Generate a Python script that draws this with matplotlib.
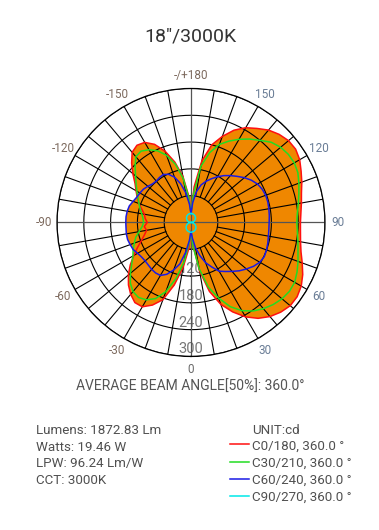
import numpy as np
import matplotlib.pyplot as plt
from matplotlib.lines import Line2D

plt.rcParams['font.family'] = ['Roboto', 'DejaVu Sans']

title = '18"/3000K'
beam_text = "AVERAGE BEAM ANGLE[50%]: 360.0°"
info_lines = ["Lumens: 1872.83 Lm", "Watts: 19.46 W", "LPW: 96.24 Lm/W", "CCT: 3000K"]
unit_text = "UNIT:cd"

# gamma angles (deg), 0 = down, positive to the right
gamma = list(range(-180, 181, 5))
c0_180 = [20, 60, 105, 140, 170, 193, 207, 211, 205, 188, 170, 153, 142, 133, 124, 114,
          106, 103, 98, 105, 101, 108, 118, 132, 148, 166, 183, 198, 210, 219, 218, 204,
          184, 145, 102, 60, 20,
          50, 110, 160, 195, 221, 244, 262, 275, 284, 290, 290, 285, 276, 265, 255, 249,
          246, 245, 247, 251, 256, 264, 272, 281, 286, 285, 279, 270, 257, 245, 228, 205,
          180, 140, 80, 20]
c30_210 = [20, 55, 100, 135, 160, 177, 188, 195, 192, 177, 162, 150, 140, 131, 124, 118,
           112, 108, 106, 110, 118, 128, 135, 143, 150, 162, 177, 192, 202, 205, 200, 188,
           165, 130, 90, 45, 20,
           55, 105, 150, 180, 208, 228, 242, 252, 260, 266, 269, 268, 262, 255, 248, 243,
           239, 237, 239, 244, 250, 257, 264, 267, 266, 262, 254, 240, 228, 215, 201, 186,
           162, 128, 65, 20]
c60_240 = [20, 42, 68, 90, 108, 119, 124, 123, 121, 122, 126, 130, 132, 134, 138, 143,
           145, 146, 146, 146, 147, 147, 145, 143, 138, 135, 134, 135, 137, 138, 137, 128,
           113, 96, 67, 40, 20,
           35, 57, 77, 96, 110, 126, 134, 143, 153, 162, 171, 178, 181, 180, 178, 176,
           175, 175, 176, 177, 178, 178, 176, 172, 165, 156, 146, 137, 128, 118, 108, 98,
           87, 70, 45, 20]
gamma_c90 = list(range(-180, 181, 10))
c90_270 = [20, 20, 19, 17.5, 15.5, 13, 10, 7, 3.5, 0, 4, 7.5, 11, 14, 17, 19, 20.5, 21.5,
           22, 21.5, 20.5, 19, 17, 14, 11, 7.5, 4, 0, 3.5, 7, 10, 13, 15.5, 17.5, 19, 20, 20]

rings = [60, 120, 180, 240, 300]
angle_ticks = [0, 30, 60, 90, 120, 150, 180, -150, -120, -90, -60, -30]
angle_labels = ["0", "30", "60", "90", "120", "150", "-/+180", "-150", "-120", "-90", "-60", "-30"]

series = [
    ("C0/180, 360.0 °", gamma, c0_180, "#ff1010"),
    ("C30/210, 360.0 °", gamma, c30_210, "#22dd22"),
    ("C60/240, 360.0 °", gamma, c60_240, "#1a1ae6"),
    ("C90/270, 360.0 °", gamma_c90, c90_270, "#00e8e8"),
]
orange = "#ef8700"

fig = plt.figure(figsize=(3.79, 5.30), dpi=100)
ax = fig.add_axes([0.1504, 0.3274, 0.7071, 0.5057], projection="polar")
ax.set_theta_zero_location("S")
ax.set_theta_direction(1)
ax.set_ylim(0, rings[-1])
ax.set_xticks([])
ax.set_yticks([])
ax.grid(False)
ax.spines["polar"].set_linewidth(0.9)

# radial value labels sit under the fill
for v in rings:
    ax.text(0, v - 16, str(v), ha="center", va="center", fontsize=10.5,
            color="#777777", zorder=0.5)

# orange fill: inner disc plus every curve
full = np.linspace(0, 2 * np.pi, 361)
ax.fill_between(full, 0, rings[0], color=orange, lw=0, zorder=1)
for name, ang, vals, col in series:
    ax.fill(np.radians(ang), vals, color=orange, lw=0, zorder=1)

# grid
for v in rings:
    ax.plot(full, np.full_like(full, v), color="black", lw=0.8, zorder=2)
for a in range(0, 360, 10):
    if a % 90 == 0:
        ax.plot([np.radians(a)] * 2, [0, rings[-1]], color="#555555", lw=0.9, zorder=2)
    else:
        ax.plot([np.radians(a)] * 2, [rings[0], rings[-1]], color="black", lw=0.8, zorder=2)

# curves
for name, ang, vals, col in series:
    ax.plot(np.radians(ang), vals, color=col, lw=1.1, zorder=3)

# angle labels
for a, lab in zip(angle_ticks, angle_labels):
    if a > 0 and a < 180:
        c = "#6a7d96"
    elif a == 0:
        c = "#6a6a6a"
    else:
        c = "#7d6a5e"
    ax.text(np.radians(a), 330, lab, ha="center", va="center", fontsize=8.5,
            color=c, clip_on=False)

fig.text(0.503, 0.932, title, ha="center", va="center", fontsize=14, color="#333333")
fig.text(0.503, 0.270, beam_text, ha="center", va="center", fontsize=10, color="#555555")

for i, line in enumerate(info_lines):
    fig.text(36 / 379, 1 - (431 + i * 16.5) / 530, line, ha="left", va="center",
             fontsize=9.6, color="#505050")

fig.text(252 / 379, 1 - 431 / 530, unit_text, ha="left", va="center",
         fontsize=9.6, color="#505050")
for i, (name, ang, vals, col) in enumerate(series):
    y = 1 - (446 + i * 17.2) / 530
    fig.add_artist(Line2D([230 / 379, 249 / 379], [y + 0.003, y + 0.003],
                          color=col, lw=1.1, transform=fig.transFigure))
    fig.text(252 / 379, y, name, ha="left", va="center", fontsize=9.6, color="#505050")

fig.savefig("out.png", dpi=100)
